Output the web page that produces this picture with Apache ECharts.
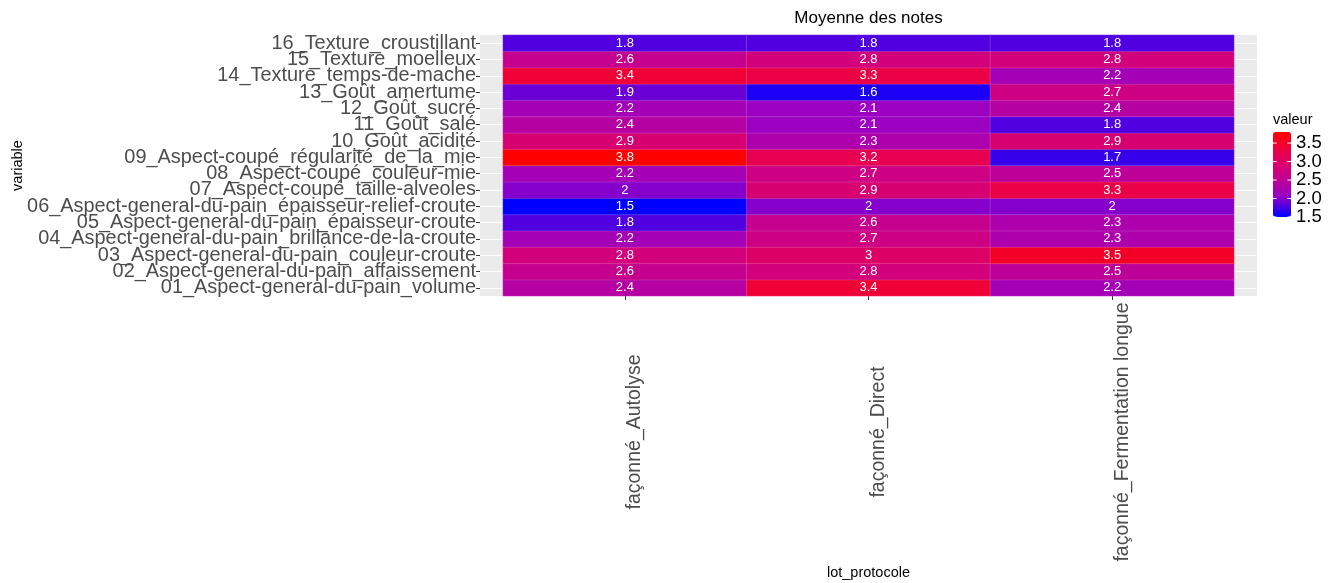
<!DOCTYPE html>
<html>
<head>
<meta charset="utf-8">
<script src="https://cdn.jsdelivr.net/npm/echarts@6/dist/echarts.min.js"></script>
<style>
html,body{margin:0;padding:0;background:#fff;}
#chart{width:1335px;height:583px;}
</style>
</head>
<body>
<div id="chart"></div>
<script>
// ---- data ----
const variables = [
  '01_Aspect-general-du-pain_volume',
  '02_Aspect-general-du-pain_affaissement',
  '03_Aspect-general-du-pain_couleur-croute',
  '04_Aspect-general-du-pain_brillance-de-la-croute',
  '05_Aspect-general-du-pain_épaisseur-croute',
  '06_Aspect-general-du-pain_épaisseur-relief-croute',
  '07_Aspect-coupé_taille-alveoles',
  '08_Aspect-coupé_couleur-mie',
  '09_Aspect-coupé_régularité_de_la_mie',
  '10_Goût_acidité',
  '11_Goût_salé',
  '12_Goût_sucré',
  '13_Goût_amertume',
  '14_Texture_temps-de-mache',
  '15_Texture_moelleux',
  '16_Texture_croustillant'
];
const lots = ['façonné_Autolyse', 'façonné_Direct', 'façonné_Fermentation longue'];
const autolyse     = [2.4, 2.6, 2.8, 2.2, 1.8, 1.5, 2,   2.2, 3.8, 2.9, 2.4, 2.2, 1.9, 3.4, 2.6, 1.8];
const direct       = [3.4, 2.8, 3,   2.7, 2.6, 2,   2.9, 2.7, 3.2, 2.3, 2.1, 2.1, 1.6, 3.3, 2.8, 1.8];
const fermentation = [2.2, 2.5, 3.5, 2.3, 2.3, 2,   3.3, 2.5, 1.7, 2.9, 1.8, 2.4, 2.7, 2.2, 2.8, 1.8];
const legendTicks = [1.5, 2.0, 2.5, 3.0, 3.5];
const scaleMin = 1.5, scaleMax = 3.8;

// ---- build ----
const columns = [autolyse, direct, fermentation];
const heatData = [];
columns.forEach((col, xi) => col.forEach((v, yi) => heatData.push([xi, yi, v])));

const FONT = '"Liberation Sans", Arial, sans-serif';
const panel = {left: 480, top: 35, width: 777, height: 261};
const tiles = {left: 503, top: 35, width: 731, height: 261};
const bar = {x: 1273, y: 132, w: 18, h: 85};

const graphics = [];
graphics.push({
  type: 'text', x: panel.left + panel.width / 2, y: 18,
  style: {text: 'Moyenne des notes', font: '17px ' + FONT, fill: '#000', textAlign: 'center', textVerticalAlign: 'middle'}
});
graphics.push({
  type: 'text', x: bar.x, y: 120,
  style: {text: 'valeur', font: '14.5px ' + FONT, fill: '#000', textAlign: 'left', textVerticalAlign: 'middle'}
});
legendTicks.forEach(t => {
  const y = bar.y + bar.h * (1 - (t - scaleMin) / (scaleMax - scaleMin));
  graphics.push({
    type: 'text', x: bar.x + bar.w + 5, y: y,
    style: {text: t.toFixed(1), font: '18.5px ' + FONT, fill: '#000', textAlign: 'left', textVerticalAlign: 'middle'}
  });
  graphics.push({type: 'line', z: 100, shape: {x1: bar.x, y1: y, x2: bar.x + 3.6, y2: y}, style: {stroke: '#fff', lineWidth: 1}});
  graphics.push({type: 'line', z: 100, shape: {x1: bar.x + bar.w - 3.6, y1: y, x2: bar.x + bar.w, y2: y}, style: {stroke: '#fff', lineWidth: 1}});
});

const chart = echarts.init(document.getElementById('chart'));
chart.setOption({
  animation: false,
  backgroundColor: '#fff',
  grid: [
    {left: panel.left, top: panel.top, width: panel.width, height: panel.height, show: true, backgroundColor: '#EBEBEB', borderWidth: 0, containLabel: false, outerBoundsMode: 'none'},
    {left: tiles.left, top: tiles.top, width: tiles.width, height: tiles.height, containLabel: false, outerBoundsMode: 'none'}
  ],
  xAxis: [
    {type: 'value', gridIndex: 0, min: 0, max: 1, show: false},
    {
      type: 'category', gridIndex: 1, data: lots,
      axisLine: {show: false},
      axisTick: {show: true, alignWithLabel: true, length: 4, lineStyle: {color: '#333'}},
      axisLabel: {rotate: 90, margin: 136, align: 'center', fontSize: 19.5, fontFamily: FONT, color: '#4D4D4D', verticalAlign: 'top', interval: 0},
      splitLine: {show: false},
      name: 'lot_protocole', nameLocation: 'middle', nameGap: 269, nameMoveOverlap: false,
      nameTextStyle: {fontSize: 14.5, fontFamily: FONT, color: '#000'}
    }
  ],
  yAxis: [
    {
      type: 'category', gridIndex: 0, data: variables,
      axisLine: {show: false},
      axisTick: {show: true, alignWithLabel: true, length: 4, lineStyle: {color: '#333'}},
      axisLabel: {margin: 4, fontSize: 19.9, fontFamily: FONT, color: '#4D4D4D', interval: 0},
      splitLine: {show: true, alignWithLabel: true, lineStyle: {color: '#fff', width: 1.2}},
      name: 'variable', nameLocation: 'middle', nameGap: 455, nameRotate: 90, nameMoveOverlap: false,
      nameTextStyle: {fontSize: 14.5, fontFamily: FONT, color: '#000'}
    },
    {type: 'category', gridIndex: 1, data: variables, show: false}
  ],
  visualMap: {
    type: 'continuous', min: scaleMin, max: scaleMax, calculable: false,
    orient: 'vertical', left: bar.x, top: bar.y, padding: 0,
    itemWidth: bar.w, itemHeight: bar.h, text: null, showLabel: false,
    seriesIndex: 0,
    inRange: {color: ['#0000FF', '#9A00C3', '#CA0089', '#E8004F', '#FF0000']}
  },
  series: [{
    type: 'heatmap', xAxisIndex: 1, yAxisIndex: 1, data: heatData,
    itemStyle: {borderColor: 'rgba(255,255,255,0.25)', borderWidth: 0.6},
    label: {
      show: true, color: '#fff', fontSize: 13, fontFamily: FONT,
      formatter: p => String(p.value[2])
    },
    emphasis: {disabled: true}
  }],
  graphic: graphics
});
</script>
</body>
</html>
